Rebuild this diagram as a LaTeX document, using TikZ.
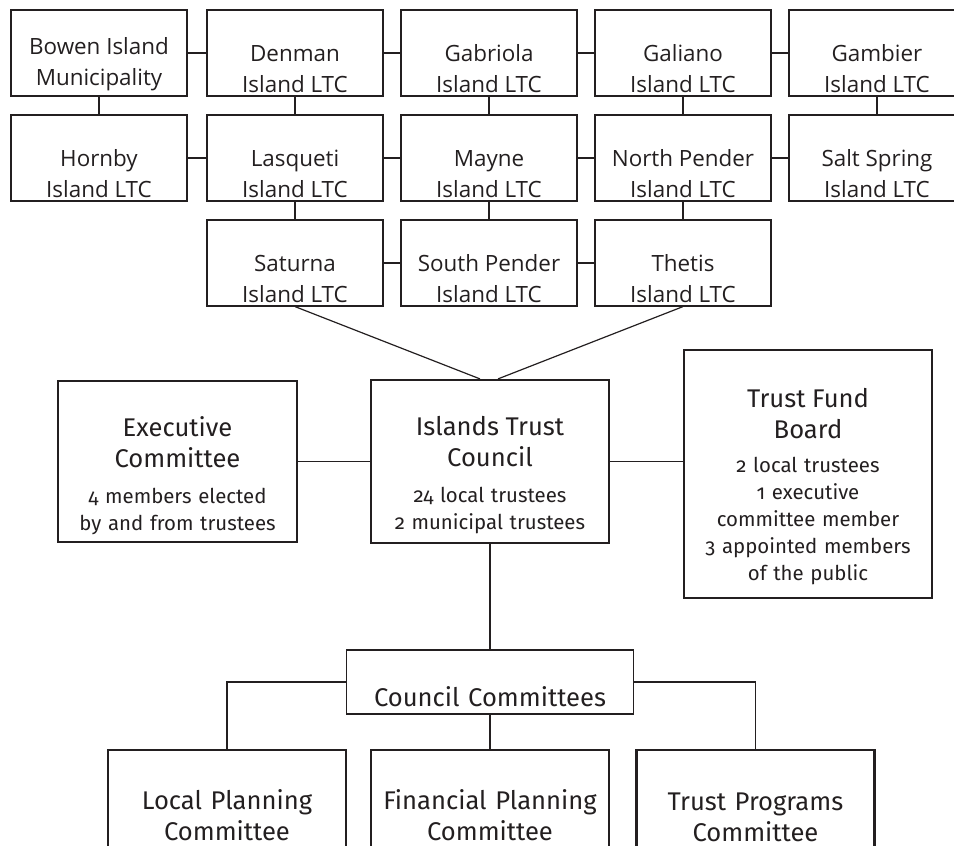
\documentclass[tikz,border=0pt]{standalone}
\usepackage{fontspec}
\setmainfont{Fira Sans}[Numbers=OldStyle]
\newfontfamily\islefont{Open Sans}
\definecolor{ink}{HTML}{231F20}
\newcommand{\titlesize}{\fontsize{12.8}{15.5}\selectfont}
\newcommand{\notesize}{\fontsize{10.2}{13.5}\selectfont}

\begin{document}
\begin{tikzpicture}[x=0.5pt,y=-0.5pt,
        isle/.style={draw=ink,line width=0.6pt,inner sep=0pt,minimum width=88pt,minimum height=43pt},
        isletxt/.style={text=ink,font=\islefont\fontsize{11.2}{15.5}\selectfont,align=center,inner sep=0pt},
        body/.style={draw=ink,line width=0.6pt,inner sep=0pt},
        heavy/.style={draw=ink,line width=1.1pt,inner sep=0pt},
        bodytxt/.style={text=ink,text width=122pt,align=center,inner sep=0pt},
        link/.style={draw=ink,line width=0.6pt}]
        \useasboundingbox (0,0) rectangle (954,846);

        \node[isle] (bowen) at (99,53) {};
        \node[isle] (denman) at (295,53) {};
        \node[isle] (gabriola) at (489,53) {};
        \node[isle] (galiano) at (683,53) {};
        \node[isle] (gambier) at (877,53) {};
        \node[isle] (hornby) at (99,158) {};
        \node[isle] (lasqueti) at (295,158) {};
        \node[isle] (mayne) at (489,158) {};
        \node[isle] (npender) at (683,158) {};
        \node[isle] (saltspring) at (877,158) {};
        \node[isle] (saturna) at (295,263) {};
        \node[isle] (spender) at (489,263) {};
        \node[isle] (thetis) at (683,263) {};

        \node[isletxt] (bowen-t) at (99,64) {Bowen Island\\Municipality};
        \node[isletxt] (denman-t) at (295,69) {Denman\\Island LTC};
        \node[isletxt] (gabriola-t) at (489,69) {Gabriola\\Island LTC};
        \node[isletxt] (galiano-t) at (683,69) {Galiano\\Island LTC};
        \node[isletxt] (gambier-t) at (877,69) {Gambier\\Island LTC};
        \node[isletxt] (hornby-t) at (99,174) {Hornby\\Island LTC};
        \node[isletxt] (lasqueti-t) at (295,174) {Lasqueti\\Island LTC};
        \node[isletxt] (mayne-t) at (489,174) {Mayne\\Island LTC};
        \node[isletxt] (npender-t) at (683,174) {North Pender\\Island LTC};
        \node[isletxt] (saltspring-t) at (877,174) {Salt Spring\\Island LTC};
        \node[isletxt] (saturna-t) at (295,279) {Saturna\\Island LTC};
        \node[isletxt] (spender-t) at (489,279) {South Pender\\Island LTC};
        \node[isletxt] (thetis-t) at (683,279) {Thetis\\Island LTC};

        \draw[link] (bowen) -- (denman) (denman) -- (gabriola) (gabriola) -- (galiano) (galiano) -- (gambier);
        \draw[link] (hornby) -- (lasqueti) (lasqueti) -- (mayne) (mayne) -- (npender) (npender) -- (saltspring);
        \draw[link] (saturna) -- (spender) (spender) -- (thetis);
        \draw[link] (bowen) -- (hornby) (denman) -- (lasqueti) (gabriola) -- (mayne) (galiano) -- (npender) (gambier) -- (saltspring);
        \draw[link] (lasqueti) -- (saturna) (mayne) -- (spender) (npender) -- (thetis);

        \node[body,minimum width=119.5pt,minimum height=80.5pt] (exec) at (177.5,461.5) {};
        \node[heavy,minimum width=119pt,minimum height=81.5pt] (council) at (490,461.5) {};
        \node[body,minimum width=124pt,minimum height=124pt] (tfb) at (808,474) {};
        \node[body,minimum width=143.5pt,minimum height=32pt] (cc) at (490,682) {};
        \node[heavy,minimum width=119pt,minimum height=70pt] (lp) at (227,820) {};
        \node[heavy,minimum width=119pt,minimum height=70pt] (fp) at (490,820) {};
        \node[heavy,minimum width=119pt,minimum height=70pt] (tp) at (755.5,820) {};

        \node[bodytxt] (exec-t) at (177.5,476) {{\titlesize Executive\\Committee\par}\vspace{4.5pt}{\notesize 4 members elected\\by and from trustees\par}};
        \node[bodytxt] (council-t) at (490,475) {{\titlesize Islands Trust\\Council\par}\vspace{4.5pt}{\notesize 24 local trustees\\2 municipal trustees\par}};
        \node[bodytxt] (tfb-t) at (808,487) {{\titlesize Trust Fund\\Board\par}\vspace{3.5pt}{\notesize 2 local trustees\\1 executive\\committee member\\3 appointed members\\of the public\par}};
        \node[bodytxt,font=\titlesize] (cc-t) at (490,697) {Council Committees};
        \node[bodytxt,font=\titlesize] (lp-t) at (227,815) {Local Planning\\Committee};
        \node[bodytxt,font=\titlesize] (fp-t) at (490,815) {Financial Planning\\Committee};
        \node[bodytxt,font=\titlesize] (tp-t) at (755.5,817) {Trust Programs\\Committee};

        \draw[link] (saturna.south) -- ([xshift=-5pt]council.north);
        \draw[link] (thetis.south) -- ([xshift=4pt]council.north);
        \draw[link] (exec) -- (council);
        \draw[link] (council.east) -- (council.east -| tfb.west);
        \draw[link] (council) -- (cc);
        \draw[link] (cc.west) -| (lp.north);
        \draw[link] (cc) -- (fp);
        \draw[link] (cc.east) -| (tp.north);
    \end{tikzpicture}
\end{document}
